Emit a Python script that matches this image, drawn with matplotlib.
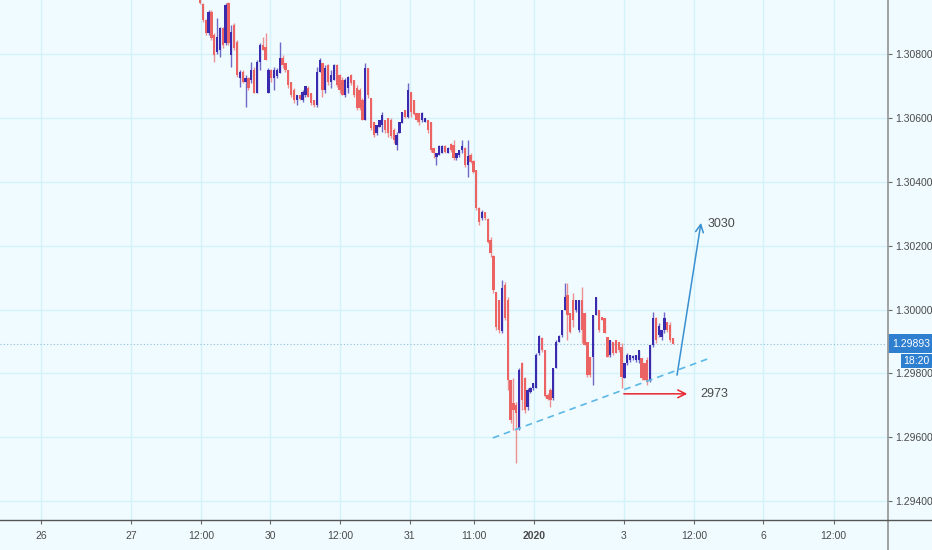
import numpy as np
import matplotlib
matplotlib.use('Agg')
import matplotlib.pyplot as plt
import matplotlib.transforms as mtransforms
from matplotlib.patches import Rectangle
from matplotlib.lines import Line2D

###30 min candles, prices in 1e-5 units (pipettes)###
open_pts = [130978, 130956, 130906, 130866, 130931, 130859, 130806, 130812, 130881, 130834,
            130960, 130797, 130891, 130837, 130725, 130744, 130712, 130725, 130719, 130750,
            130678, 130775, 130828, 130822, 130678, 130750, 130725, 130731, 130740, 130787,
            130772, 130750, 130712, 130687, 130656, 130672, 130656, 130672, 130694, 130678,
            130656, 130640, 130744, 130772, 130687, 130765, 130712, 130719, 130765, 130734,
            130719, 130672, 130694, 130734, 130719, 130694, 130687, 130656, 130593, 130756,
            130662, 130587, 130553, 130571, 130578, 130593, 130600, 130593, 130562, 130515,
            130553, 130584, 130625, 130603, 130681, 130656, 130615, 130615, 130593, 130587,
            130593, 130587, 130506, 130478, 130484, 130490, 130512, 130490, 130518, 130515,
            130474, 130484, 130499, 130506, 130452, 130484, 130465, 130437, 130318, 130287,
            130305, 130284, 130218, 130168, 130055, 130030, 129933, 130077, 130030, 129780,
            129708, 129701, 129629, 129833, 129786, 129695, 129742, 129755, 129755, 129864,
            129911, 129873, 129733, 129748, 129723, 129817, 129898, 129920, 129999, 130046,
            129989, 130030, 129999, 129936, 130030, 129989, 129898, 129852, 129852, 129983,
            129999, 129977, 129974, 129914, 129858, 129898, 129905, 129898, 129883, 129786,
            129833, 129842, 129848, 129842, 129842, 129848, 129833, 129842, 129780, 129889,
            129974, 129920, 129914, 129936, 129961, 129952, 129911]
high_pts = [130988, 130960, 130909, 130938, 130938, 130866, 130913, 130884, 130884, 130960,
            130963, 130891, 130897, 130844, 130750, 130750, 130734, 130728, 130775, 130759,
            130781, 130834, 130853, 130866, 130756, 130753, 130759, 130756, 130837, 130797,
            130772, 130750, 130712, 130694, 130672, 130672, 130687, 130700, 130700, 130678,
            130656, 130759, 130787, 130772, 130765, 130769, 130750, 130769, 130769, 130737,
            130728, 130725, 130731, 130737, 130719, 130703, 130694, 130662, 130772, 130756,
            130662, 130587, 130578, 130593, 130618, 130593, 130600, 130600, 130568, 130556,
            130587, 130618, 130625, 130709, 130681, 130656, 130615, 130615, 130618, 130600,
            130593, 130587, 130506, 130490, 130515, 130515, 130515, 130509, 130521, 130531,
            130490, 130499, 130531, 130509, 130531, 130490, 130468, 130437, 130321, 130312,
            130305, 130287, 130227, 130171, 130055, 130030, 130093, 130086, 130039, 129780,
            129786, 129711, 129817, 129836, 129789, 129755, 129758, 129770, 129864, 129920,
            129914, 129873, 129739, 129755, 129817, 129905, 129920, 129999, 130083, 130083,
            129989, 130052, 130030, 130030, 130071, 129989, 129898, 129852, 129983, 130039,
            129999, 129977, 129974, 129914, 129905, 129898, 129905, 129898, 129895, 129833,
            129864, 129858, 129858, 129858, 129873, 129848, 129833, 129852, 129889, 129992,
            129977, 129958, 129936, 129992, 129961, 129961, 129911]
low_pts = [130956, 130900, 130859, 130859, 130844, 130775, 130800, 130791, 130819, 130828,
           130828, 130759, 130812, 130728, 130697, 130709, 130634, 130687, 130709, 130678,
           130678, 130750, 130812, 130781, 130678, 130712, 130687, 130725, 130740, 130756,
           130744, 130694, 130665, 130647, 130640, 130656, 130650, 130665, 130665, 130640,
           130634, 130634, 130744, 130665, 130678, 130703, 130694, 130719, 130697, 130678,
           130672, 130665, 130678, 130703, 130665, 130625, 130625, 130593, 130593, 130662,
           130562, 130540, 130546, 130571, 130556, 130553, 130540, 130537, 130521, 130499,
           130553, 130584, 130600, 130600, 130603, 130609, 130587, 130578, 130587, 130587,
           130553, 130493, 130474, 130452, 130484, 130490, 130490, 130490, 130493, 130468,
           130468, 130478, 130490, 130446, 130415, 130459, 130427, 130312, 130265, 130280,
           130280, 130208, 130165, 130052, 129936, 129927, 129927, 129967, 129748, 129645,
           129623, 129520, 129623, 129686, 129676, 129686, 129739, 129748, 129755, 129858,
           129867, 129726, 129717, 129695, 129717, 129817, 129898, 129914, 129999, 129905,
           129927, 129946, 129992, 129930, 129895, 129889, 129789, 129789, 129764, 129983,
           129930, 129967, 129927, 129852, 129852, 129858, 129864, 129867, 129755, 129786,
           129826, 129836, 129842, 129836, 129833, 129780, 129780, 129764, 129773, 129883,
           129895, 129914, 129905, 129927, 129930, 129898, 129893]
close_pts = [130960, 130906, 130866, 130931, 130850, 130797, 130853, 130881, 130828, 130953,
             130834, 130869, 130819, 130734, 130744, 130712, 130725, 130694, 130750, 130678,
             130775, 130828, 130812, 130781, 130750, 130725, 130750, 130750, 130787, 130765,
             130750, 130703, 130672, 130656, 130672, 130659, 130681, 130700, 130665, 130647,
             130640, 130744, 130781, 130687, 130756, 130712, 130734, 130765, 130703, 130687,
             130672, 130719, 130728, 130709, 130672, 130631, 130631, 130593, 130756, 130672,
             130568, 130546, 130578, 130593, 130609, 130562, 130553, 130543, 130531, 130546,
             130587, 130618, 130603, 130687, 130618, 130612, 130593, 130587, 130615, 130600,
             130562, 130499, 130490, 130490, 130512, 130512, 130493, 130506, 130499, 130474,
             130490, 130499, 130512, 130452, 130481, 130462, 130431, 130318, 130274, 130305,
             130287, 130211, 130177, 130061, 129946, 129936, 130068, 129974, 129780, 129654,
             129686, 129676, 129811, 129717, 129686, 129748, 129755, 129770, 129858, 129917,
             129873, 129730, 129720, 129717, 129817, 129898, 129917, 129999, 130039, 129983,
             129930, 129967, 130030, 130030, 129936, 129889, 129795, 129795, 129983, 130039,
             129936, 129967, 129927, 129852, 129905, 129864, 129864, 129873, 129789, 129833,
             129858, 129858, 129855, 129858, 129873, 129786, 129780, 129773, 129889, 129974,
             129905, 129949, 129936, 129974, 129936, 129905, 129893]

last_price = 1.29893
last_time = '18:20'

###axis labels###
x_tick_labels = ['26', '27', '12:00', '30', '12:00', '31', '11:00', '2020', '3', '12:00', '6', '12:00']
x_tick_pos = [-55.8, -24.2, 0.35, 24.7, 49.1, 73.6, 96.2, 117.4, 148.8, 173.4, 197.6, 222.4]
y_ticks = [1.294, 1.296, 1.298, 1.300, 1.302, 1.304, 1.306, 1.308]

###drawings###
trend_x = [102.8, 179.0]
trend_y = [1.29598, 1.29848]
up_arrow_start = (167.3, 1.29786)
up_arrow_end = (176.0, 1.30280)
up_target = '3030'
flat_arrow_start = (147.8, 1.29736)
flat_arrow_end = (172.0, 1.29736)
flat_target = '2973'

o = np.array(open_pts) / 1e5
h = np.array(high_pts) / 1e5
l = np.array(low_pts) / 1e5
c = np.array(close_pts) / 1e5
x = np.arange(len(o))

bg = '#f0fbff'
grid_col = '#d3f2fa'
red = '#ec6363'
blue = '#3a2aae'
txt = '#4a4a4a'
font = ['Liberation Sans', 'DejaVu Sans']

fig = plt.figure(figsize=(9.32, 5.5), dpi=100)
fig.patch.set_facecolor(bg)
ax = fig.add_axes([0, 30 / 550, 888 / 932, 520 / 550])
ax.set_facecolor(bg)

for i in x:
    col = blue if c[i] >= o[i] else red
    ax.vlines(i, l[i], h[i], color=col, lw=1.0, alpha=0.7, zorder=3)
    body = max(abs(c[i] - o[i]), 0.00002)
    ax.bar(i, body, bottom=min(o[i], c[i]), width=0.8, color=col, lw=0, zorder=4)

ax.set_xlim(-70.2, 241.5)
ax.set_ylim(1.29341, 1.30969)

###grid###
for xt in x_tick_pos:
    ax.axvline(xt, color=grid_col, lw=1, zorder=1)
for yt in y_ticks:
    ax.axhline(yt, color=grid_col, lw=1, zorder=1)
ax.axhline(last_price, color='#8fbfdc', lw=0.8, ls=(0, (1, 2)), zorder=2)

###trend line and targets###
ax.plot(trend_x, trend_y, color='#5cb8e6', lw=1.2, ls=(0, (4, 3)), zorder=5)
ax.annotate('', xy=up_arrow_end, xytext=up_arrow_start,
            arrowprops=dict(arrowstyle='->', color='#3a8fd0', lw=1.1, mutation_scale=14), zorder=6)
ax.annotate('', xy=flat_arrow_end, xytext=flat_arrow_start,
            arrowprops=dict(arrowstyle='->', color='#e8262e', lw=1.1, mutation_scale=14), zorder=6)
ax.text(up_arrow_end[0] + 2.3, up_arrow_end[1] - 0.00012, up_target, color=txt, fontsize=9,
        family=font, ha='left', va='center')
ax.text(flat_arrow_end[0] + 3.5, flat_arrow_end[1], flat_target, color=txt, fontsize=9,
        family=font, ha='left', va='center')

###axes styling###
for s in ax.spines.values():
    s.set_visible(False)
ax.yaxis.tick_right()
ax.set_yticks(y_ticks)
ax.set_yticklabels(['%.5f' % v for v in y_ticks])
ax.set_xticks(x_tick_pos)
ax.set_xticklabels(x_tick_labels)
ax.tick_params(axis='y', length=3, width=0.8, color='#6a6a6a', pad=2, labelsize=7.5, labelcolor=txt)
ax.tick_params(axis='x', length=3, width=0.8, color='#6a6a6a', pad=5, labelsize=7.5, labelcolor=txt)
for lab in ax.get_xticklabels() + ax.get_yticklabels():
    lab.set_family(font)
ax.get_xticklabels()[7].set_fontweight('bold')

fig.add_artist(Line2D([888 / 932, 888 / 932], [0, 1], color='#9a9a9a', lw=1.3))
fig.add_artist(Line2D([0, 1], [30 / 550, 30 / 550], color='#555555', lw=1.0))

###last price labels###
tr = mtransforms.blended_transform_factory(ax.transAxes, ax.transData)
ax.add_patch(Rectangle((1.0, last_price - 0.0003), 44 / 888, 0.0006, transform=tr,
                       facecolor='#2f7fd0', edgecolor='none', clip_on=False, zorder=10))
ax.text(1.0 + 23 / 888, last_price, '%.5f' % last_price, transform=tr, color='white',
        fontsize=7.5, family=font, ha='center', va='center', zorder=11, clip_on=False)
ax.add_patch(Rectangle((901 / 888, 1.29817), 31 / 888, 0.00044, transform=tr,
                       facecolor='#2f7fd0', edgecolor='none', clip_on=False, zorder=10))
ax.text(916.5 / 888, 1.29839, last_time, transform=tr, color='white',
        fontsize=7.5, family=font, ha='center', va='center', zorder=11, clip_on=False)

fig.savefig('out.png', dpi=100, facecolor=bg)
